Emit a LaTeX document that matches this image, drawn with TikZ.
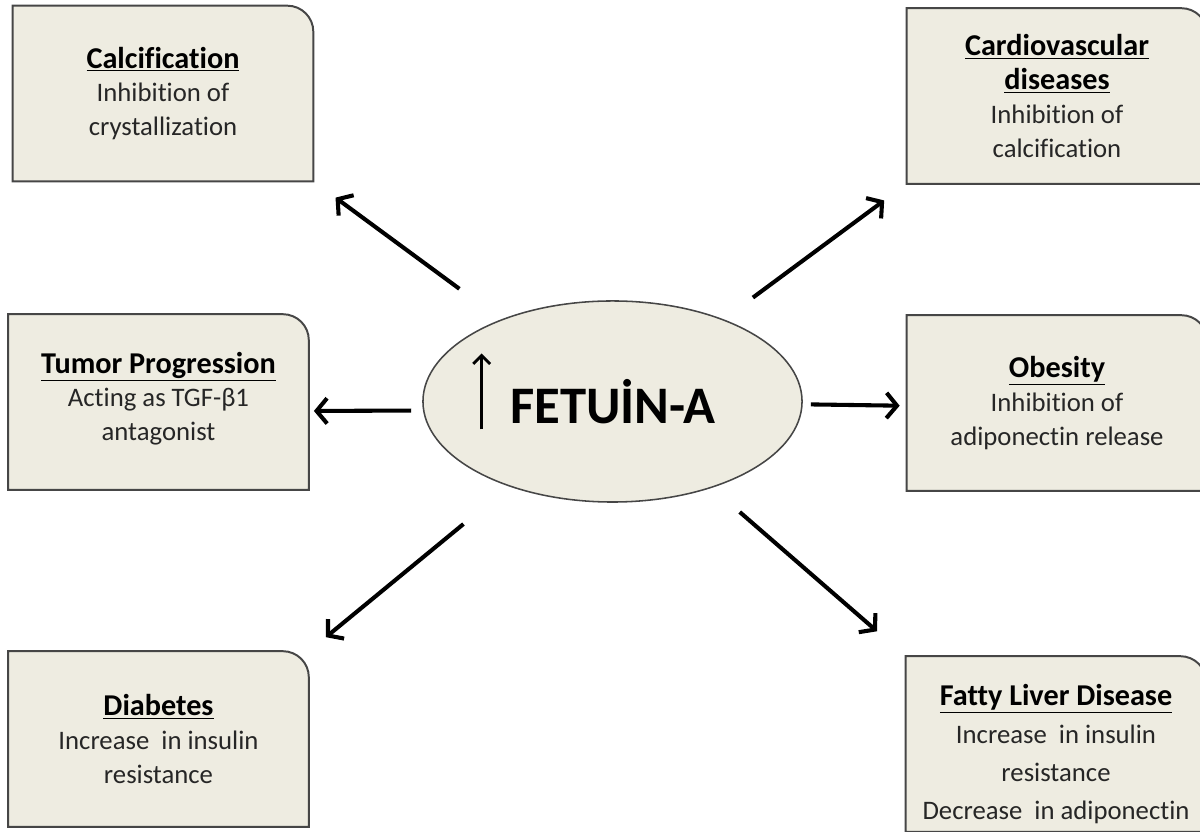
\documentclass[tikz,border=0pt]{standalone}
\usepackage{fontspec}
\setmainfont[Ligatures=NoCommon]{Carlito}
\usetikzlibrary{arrows.meta,backgrounds,shapes.geometric}
\definecolor{boxfill}{RGB}{238,236,225}
\definecolor{boxline}{RGB}{70,70,70}
\newcommand{\headline}[1]{{\bfseries\fontsize{21.5}{24}\selectfont\color{black}\underline{#1}}}
\tikzset{
  effect/.style={rectangle,minimum width=7.5cm,minimum height=4.375cm,inner sep=0pt,
    align=center,text=black!85,font=\fontsize{19}{24}\selectfont},
  shapeline/.style={draw=boxline,line width=1.4pt,fill=boxfill},
  arr/.style={line width=2.9pt,-{Straight Barb[length=7.5pt,width=18pt,line width=2.9pt]}}
}
\begin{document}
\begin{tikzpicture}[x=0.025cm,y=0.025cm]
	\useasboundingbox (0,0) rectangle (1200,832);
	\clip (0,0) rectangle (1200,832);
	% the boxes round the centre
	\node[effect] (calc) at (163,738.5){\headline{Calcification}\\Inhibition of\\crystallization};
	\node[effect] (cardio) at (1057,736){\headline{Cardiovascular}\\\headline{diseases}\\Inhibition of\\calcification};
	\node[effect] (tumor) at (158.5,430){\headline{Tumor Progression}\\Acting as TGF-β1\\antagonist\rule[-8pt]{0pt}{8pt}};
	\node[effect] (obes) at (1057,429){\headline{Obesity}\\Inhibition of\\adiponectin release};
	\node[effect] (diab) at (158.5,93){\headline{Diabetes}\\Increase~ in insulin\\resistance};
	\node[effect,font=\fontsize{19}{27}\selectfont] (fatty) at (1056,88){\rule{0pt}{29pt}\headline{Fatty Liver Disease}\\Increase~ in insulin\\resistance\\Decrease~ in adiponectin};
	% centre
	\node[ellipse,draw=boxline,line width=1.1pt,fill=boxfill,minimum width=9.475cm,minimum height=5.025cm,inner sep=0pt] (fetuin) at (612.5,430.5){};
	\node[font=\bfseries\fontsize{37.5}{40}\selectfont] (name) at (613,430){FETUİN-A};
	\draw[line width=2pt,-{Straight Barb[length=6pt,width=12pt,line width=2pt]}] ([xshift=-3.27cm,yshift=-0.7cm]fetuin.center) -- ([xshift=-3.27cm,yshift=1.2cm]fetuin.center);
	\begin{pgfonlayer}{background}
	\foreach \n in {calc,cardio,tumor,obes,diab,fatty}
		\draw[shapeline] (\n.south west) -- (\n.north west) -- ([xshift=-0.65cm]\n.north east) arc[start angle=90,end angle=0,radius=0.65cm] -- (\n.south east) -- cycle;
	\end{pgfonlayer}
	% arrows
	\draw[arr,shorten <=36.7pt,shorten >=19.6pt] (fetuin) -- (calc.south east);
	\draw[arr,shorten <=25.9pt,shorten >=19.9pt] (fetuin) -- (cardio.south west);
	\draw[arr,shorten <=7.8pt,shorten >=3.6pt] ([yshift=-6.4pt]fetuin.west) -- ([yshift=-6.4pt]tumor.east);
	\draw[arr,shorten <=5.7pt,shorten >=5pt] ([yshift=-2pt]fetuin.east) -- ([yshift=-2pt]obes.west);
	\draw[arr,shorten <=42pt,shorten >=15.7pt] (fetuin) -- (diab.north east);
	\draw[arr,shorten <=26.2pt,shorten >=27pt] (fetuin) -- (fatty.north west);
\end{tikzpicture}
\end{document}
